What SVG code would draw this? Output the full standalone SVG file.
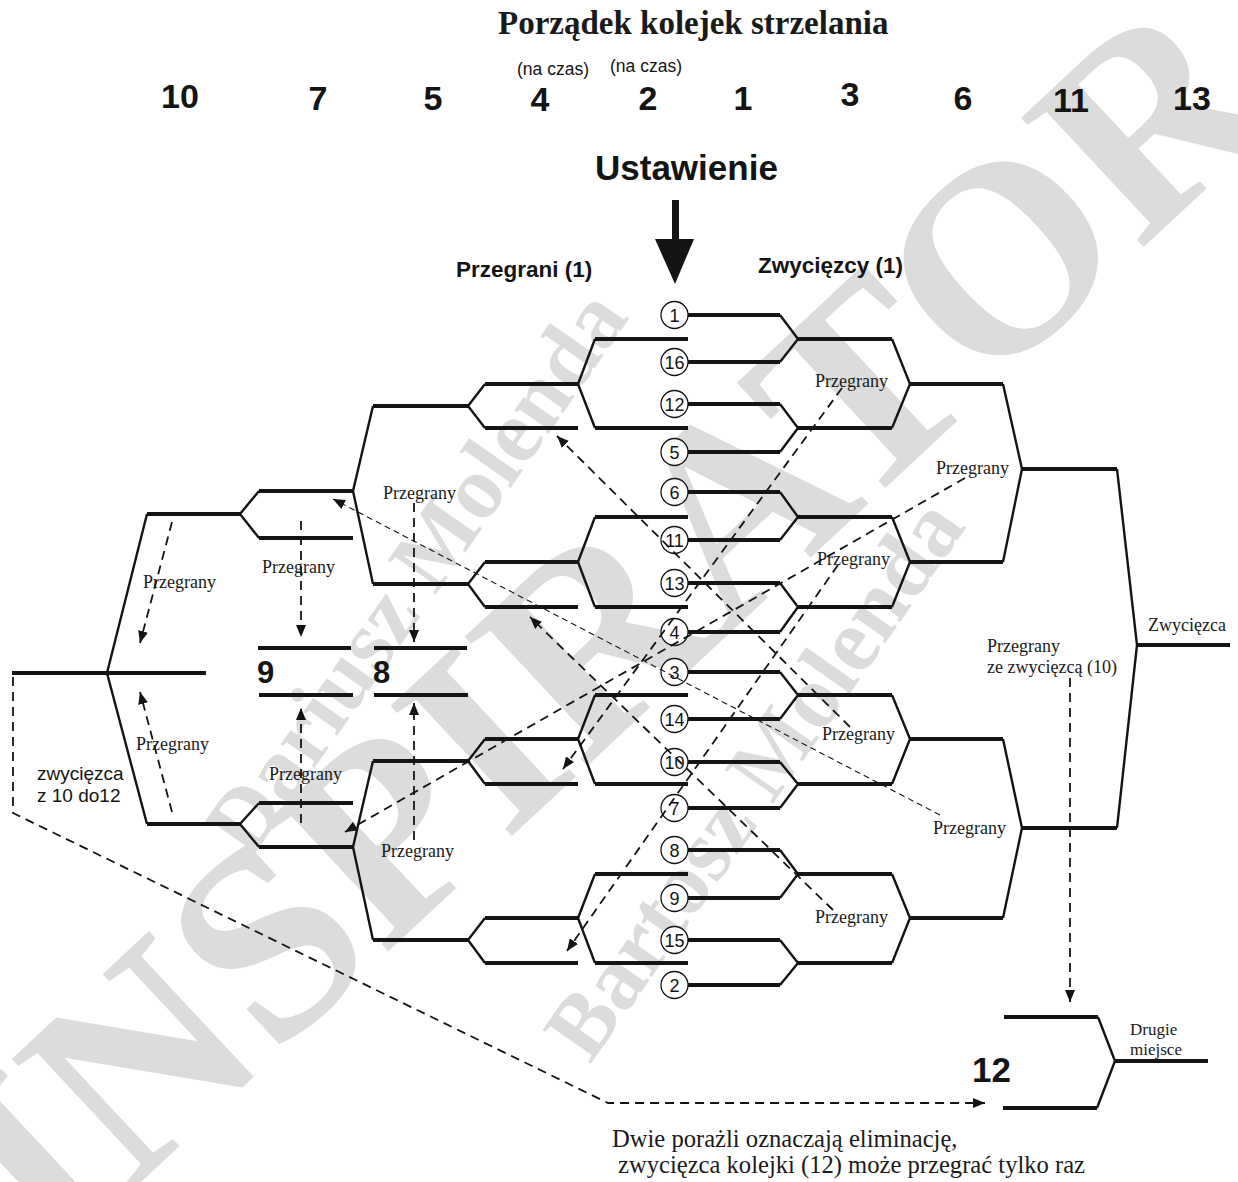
<svg xmlns="http://www.w3.org/2000/svg" width="1238" height="1182" viewBox="0 0 1238 1182">
<style>
.h{stroke:#141414;stroke-width:4;fill:none}
.d{stroke:#141414;stroke-width:2.4;fill:none;stroke-linejoin:miter}
.dash{stroke:#141414;stroke-width:1.8;stroke-dasharray:9 6;fill:none;marker-end:url(#ah)}
.thin{stroke:#141414;stroke-width:1.1;stroke-dasharray:6 4;fill:none;marker-end:url(#ah)}
.sans{font-family:"Liberation Sans",Arial,sans-serif;fill:#141414}
.serif{font-family:"Liberation Serif","Times New Roman",serif;fill:#1a1a1a}
.lbl{font-family:"Liberation Serif","Times New Roman",serif;font-size:18px;fill:#1a1a1a}
.num{font-family:"Liberation Sans",Arial,sans-serif;font-weight:bold;font-size:34px;text-anchor:middle;fill:#141414}
.seed circle{fill:#fff;stroke:#141414;stroke-width:1.3}
.seed text{font-family:"Liberation Sans",Arial,sans-serif;font-size:18px;text-anchor:middle;fill:#141414}
.wm{font-family:"Liberation Serif","Times New Roman",serif;font-weight:bold;fill:#dcdcdc}
</style>
<defs>
<marker id="ah" markerUnits="userSpaceOnUse" markerWidth="13" markerHeight="10" refX="12" refY="5" orient="auto">
<path d="M0,0 L12,5 L0,10 z" fill="#141414"/>
</marker>
</defs>
<rect width="1238" height="1182" fill="#fff"/>

<g id="watermark" class="wm">
<text transform="translate(52,1265) rotate(-43)" font-size="272">INSPIRATOR</text>
<text transform="translate(250,860) rotate(-55)" font-size="90">Dariusz Molenda</text>
<text transform="translate(590,1065) rotate(-55)" font-size="90">Bartosz Molenda</text>
</g>

<g id="header">
<text class="serif" x="498" y="34" font-size="33" font-weight="bold">Porządek kolejek strzelania</text>
<text class="sans" x="517" y="75" font-size="17.5">(na czas)</text>
<text class="sans" x="610" y="72" font-size="17.5">(na czas)</text>
<text class="num" x="180" y="108">10</text>
<text class="num" x="318" y="110">7</text>
<text class="num" x="433" y="110">5</text>
<text class="num" x="540" y="111">4</text>
<text class="num" x="648" y="110">2</text>
<text class="num" x="743" y="110">1</text>
<text class="num" x="850" y="106">3</text>
<text class="num" x="963" y="110">6</text>
<text class="num" x="1071" y="112">11</text>
<text class="num" x="1192" y="110">13</text>
<text class="sans" x="595" y="180" font-size="35" font-weight="bold">Ustawienie</text>
<rect x="672" y="200" width="7" height="40" fill="#141414"/>
<polygon points="655,239 694,239 675,284" fill="#141414"/>
<text class="sans" x="456" y="277" font-size="22.5" font-weight="bold">Przegrani (1)</text>
<text class="sans" x="758" y="273" font-size="22.5" font-weight="bold">Zwycięzcy (1)</text>
</g>

<!-- winners bracket round 1 (seed lines) -->
<g id="w1-1"><line class="h" x1="688" y1="315" x2="780" y2="315"/><line class="h" x1="688" y1="362" x2="780" y2="362"/><polyline class="d" points="780,315 798,339 780,362"/><line class="h" x1="798" y1="339" x2="892" y2="339"/></g>
<g id="w1-2"><line class="h" x1="688" y1="404" x2="780" y2="404"/><line class="h" x1="688" y1="452" x2="780" y2="452"/><polyline class="d" points="780,404 798,428 780,452"/><line class="h" x1="798" y1="428" x2="892" y2="428"/></g>
<g id="w1-3"><line class="h" x1="688" y1="492" x2="780" y2="492"/><line class="h" x1="688" y1="540" x2="780" y2="540"/><polyline class="d" points="780,492 798,517 780,540"/><line class="h" x1="798" y1="517" x2="892" y2="517"/></g>
<g id="w1-4"><line class="h" x1="688" y1="583" x2="780" y2="583"/><line class="h" x1="688" y1="632" x2="780" y2="632"/><polyline class="d" points="780,583 798,607 780,632"/><line class="h" x1="798" y1="607" x2="892" y2="607"/></g>
<g id="w1-5"><line class="h" x1="688" y1="672" x2="780" y2="672"/><line class="h" x1="688" y1="719" x2="780" y2="719"/><polyline class="d" points="780,672 798,695 780,719"/><line class="h" x1="798" y1="695" x2="892" y2="695"/></g>
<g id="w1-6"><line class="h" x1="688" y1="762" x2="780" y2="762"/><line class="h" x1="688" y1="808" x2="780" y2="808"/><polyline class="d" points="780,762 798,784 780,808"/><line class="h" x1="798" y1="784" x2="892" y2="784"/></g>
<g id="w1-7"><line class="h" x1="688" y1="850" x2="780" y2="850"/><line class="h" x1="688" y1="898" x2="780" y2="898"/><polyline class="d" points="780,850 798,874 780,898"/><line class="h" x1="798" y1="874" x2="892" y2="874"/></g>
<g id="w1-8"><line class="h" x1="688" y1="940" x2="780" y2="940"/><line class="h" x1="688" y1="985" x2="780" y2="985"/><polyline class="d" points="780,940 798,963 780,985"/><line class="h" x1="798" y1="963" x2="892" y2="963"/></g>

<!-- winners round 2 -->
<g id="w2-1"><polyline class="d" points="892,339 910,384 892,428"/><line class="h" x1="910" y1="384" x2="1003" y2="384"/></g>
<g id="w2-2"><polyline class="d" points="892,517 910,562 892,607"/><line class="h" x1="910" y1="562" x2="1003" y2="562"/></g>
<g id="w2-3"><polyline class="d" points="892,695 910,739 892,784"/><line class="h" x1="910" y1="739" x2="1003" y2="739"/></g>
<g id="w2-4"><polyline class="d" points="892,874 910,918 892,963"/><line class="h" x1="910" y1="918" x2="1003" y2="918"/></g>
<!-- winners round 3 -->
<g id="w3-1"><polyline class="d" points="1003,384 1022,469 1003,562"/><line class="h" x1="1022" y1="469" x2="1117" y2="469"/></g>
<g id="w3-2"><polyline class="d" points="1003,739 1022,828 1003,918"/><line class="h" x1="1022" y1="828" x2="1117" y2="828"/></g>
<!-- final -->
<g id="final"><polyline class="d" points="1117,469 1137,645 1117,828"/><line class="h" x1="1137" y1="645" x2="1230" y2="645"/>
<text class="lbl" x="1148" y="631">Zwycięzca</text></g>

<!-- losers round 1 -->
<g id="l1-1"><line class="h" x1="595" y1="339" x2="688" y2="339"/><line class="h" x1="595" y1="428" x2="688" y2="428"/><polyline class="d" points="595,339 578,384 595,428"/><line class="h" x1="485" y1="384" x2="578" y2="384"/></g>
<g id="l1-2"><line class="h" x1="595" y1="517" x2="688" y2="517"/><line class="h" x1="595" y1="607" x2="688" y2="607"/><polyline class="d" points="595,517 578,562 595,607"/><line class="h" x1="485" y1="562" x2="578" y2="562"/></g>
<g id="l1-3"><line class="h" x1="595" y1="695" x2="688" y2="695"/><line class="h" x1="595" y1="784" x2="688" y2="784"/><polyline class="d" points="595,695 578,739 595,784"/><line class="h" x1="485" y1="739" x2="578" y2="739"/></g>
<g id="l1-4"><line class="h" x1="595" y1="874" x2="688" y2="874"/><line class="h" x1="595" y1="963" x2="688" y2="963"/><polyline class="d" points="595,874 578,918 595,963"/><line class="h" x1="485" y1="918" x2="578" y2="918"/></g>
<!-- losers round 2 -->
<g id="l2-1"><line class="h" x1="485" y1="428" x2="578" y2="428"/><polyline class="d" points="485,384 468,406 485,428"/><line class="h" x1="373" y1="406" x2="468" y2="406"/></g>
<g id="l2-2"><line class="h" x1="485" y1="607" x2="578" y2="607"/><polyline class="d" points="485,562 468,584 485,607"/><line class="h" x1="373" y1="584" x2="468" y2="584"/></g>
<g id="l2-3"><line class="h" x1="485" y1="784" x2="578" y2="784"/><polyline class="d" points="485,739 468,761 485,784"/><line class="h" x1="373" y1="761" x2="468" y2="761"/></g>
<g id="l2-4"><line class="h" x1="485" y1="963" x2="578" y2="963"/><polyline class="d" points="485,918 468,940 485,963"/><line class="h" x1="373" y1="940" x2="468" y2="940"/></g>
<!-- losers round 3 -->
<g id="l3-1"><polyline class="d" points="373,406 353,491 373,584"/><line class="h" x1="259" y1="491" x2="353" y2="491"/></g>
<g id="l3-2"><polyline class="d" points="373,761 353,847 373,940"/><line class="h" x1="259" y1="847" x2="353" y2="847"/></g>
<!-- losers round 4 -->
<g id="l4-1"><line class="h" x1="259" y1="538" x2="353" y2="538"/><polyline class="d" points="259,491 240,514 259,538"/><line class="h" x1="147" y1="514" x2="240" y2="514"/></g>
<g id="l4-2"><line class="h" x1="259" y1="803" x2="353" y2="803"/><polyline class="d" points="259,803 240,824 259,847"/><line class="h" x1="147" y1="824" x2="240" y2="824"/></g>
<!-- losers final -->
<g id="l5"><polyline class="d" points="147,514 107,673 147,824"/><line class="h" x1="12" y1="673" x2="206" y2="673"/>
<text class="sans" x="37" y="780" font-size="19">zwycięzca</text><text class="sans" x="37" y="802" font-size="19">z 10 do12</text></g>

<!-- places 9 and 8 -->
<g id="place-9"><line class="h" x1="258" y1="648" x2="351" y2="648"/><line class="h" x1="259" y1="695" x2="353" y2="695"/><text class="sans" x="257" y="683" font-size="31" font-weight="bold">9</text></g>
<g id="place-8"><line class="h" x1="374" y1="648" x2="467" y2="648"/><line class="h" x1="374" y1="695" x2="468" y2="695"/><text class="sans" x="373" y="683" font-size="31" font-weight="bold">8</text></g>

<!-- second place -->
<g id="place-12"><line class="h" x1="1004" y1="1017" x2="1098" y2="1017"/><line class="h" x1="1003" y1="1108" x2="1097" y2="1108"/><polyline class="d" points="1098,1017 1115,1061 1097,1108"/><line class="h" x1="1115" y1="1061" x2="1208" y2="1061"/>
<text class="sans" x="972" y="1082" font-size="35" font-weight="bold">12</text>
<text class="serif" x="1130" y="1035" font-size="17">Drugie</text><text class="serif" x="1130" y="1055" font-size="17">miejsce</text></g>

<!-- seeds -->
<g class="seed">
<g id="seed-1"><circle cx="674.5" cy="315" r="13.5"/><text x="674.5" y="321.5">1</text></g>
<g id="seed-16"><circle cx="674.5" cy="362" r="13.5"/><text x="674.5" y="368.5">16</text></g>
<g id="seed-12"><circle cx="674.5" cy="404" r="13.5"/><text x="674.5" y="410.5">12</text></g>
<g id="seed-5"><circle cx="674.5" cy="452" r="13.5"/><text x="674.5" y="458.5">5</text></g>
<g id="seed-6"><circle cx="674.5" cy="492" r="13.5"/><text x="674.5" y="498.5">6</text></g>
<g id="seed-11"><circle cx="674.5" cy="540" r="13.5"/><text x="674.5" y="546.5">11</text></g>
<g id="seed-13"><circle cx="674.5" cy="583" r="13.5"/><text x="674.5" y="589.5">13</text></g>
<g id="seed-4"><circle cx="674.5" cy="632" r="13.5"/><text x="674.5" y="638.5">4</text></g>
<g id="seed-3"><circle cx="674.5" cy="672" r="13.5"/><text x="674.5" y="678.5">3</text></g>
<g id="seed-14"><circle cx="674.5" cy="719" r="13.5"/><text x="674.5" y="725.5">14</text></g>
<g id="seed-10"><circle cx="674.5" cy="762" r="13.5"/><text x="674.5" y="768.5">10</text></g>
<g id="seed-7"><circle cx="674.5" cy="808" r="13.5"/><text x="674.5" y="814.5">7</text></g>
<g id="seed-8"><circle cx="674.5" cy="850" r="13.5"/><text x="674.5" y="856.5">8</text></g>
<g id="seed-9"><circle cx="674.5" cy="898" r="13.5"/><text x="674.5" y="904.5">9</text></g>
<g id="seed-15"><circle cx="674.5" cy="940" r="13.5"/><text x="674.5" y="946.5">15</text></g>
<g id="seed-2"><circle cx="674.5" cy="985" r="13.5"/><text x="674.5" y="991.5">2</text></g>
</g>

<!-- connectors -->
<g id="connectors">
<line class="dash" x1="842" y1="388" x2="563" y2="769"/>
<line class="dash" x1="965" y1="478" x2="345" y2="832"/>
<line class="dash" x1="838" y1="565" x2="567" y2="951"/>
<line class="thin" x1="940" y1="815" x2="333" y2="499"/>
<line class="dash" x1="833" y1="910" x2="530" y2="617"/>
<line class="dash" x1="850" y1="727" x2="557" y2="436"/>
<line class="dash" x1="1070" y1="678" x2="1070" y2="1002"/>
<path class="dash" d="M13,677 V813 L608,1103 H985"/>
<line class="dash" x1="301" y1="521" x2="301" y2="637"/>
<line class="dash" x1="301" y1="823" x2="301" y2="708"/>
<line class="dash" x1="414" y1="503" x2="414" y2="642"/>
<line class="dash" x1="414" y1="840" x2="414" y2="703"/>
<line class="dash" x1="172" y1="522" x2="140" y2="643"/>
<line class="dash" x1="172" y1="812" x2="140" y2="692"/>
</g>

<g id="labels">
<text class="lbl" x="815" y="387">Przegrany</text>
<text class="lbl" x="936" y="474">Przegrany</text>
<text class="lbl" x="817" y="565">Przegrany</text>
<text class="lbl" x="822" y="740">Przegrany</text>
<text class="lbl" x="933" y="834">Przegrany</text>
<text class="lbl" x="815" y="923">Przegrany</text>
<text class="lbl" x="383" y="499">Przegrany</text>
<text class="lbl" x="262" y="573">Przegrany</text>
<text class="lbl" x="143" y="588">Przegrany</text>
<text class="lbl" x="136" y="750">Przegrany</text>
<text class="lbl" x="269" y="780">Przegrany</text>
<text class="lbl" x="381" y="857">Przegrany</text>
<text class="lbl" x="987" y="652">Przegrany</text>
<text class="lbl" x="987" y="673">ze zwycięzcą (10)</text>
<text class="serif" x="612" y="1147" font-size="24.6">Dwie porażli oznaczają eliminację,</text>
<text class="serif" x="618" y="1173" font-size="24.6">zwycięzca kolejki (12) może przegrać tylko raz</text>
</g>
</svg>
